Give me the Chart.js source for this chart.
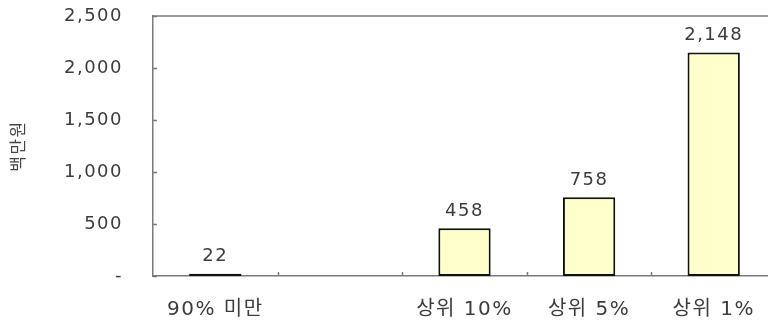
<!DOCTYPE html>
<html>
<head>
<meta charset="utf-8">
<script src="https://cdn.jsdelivr.net/npm/chart.js@4"></script>
<style>
  html, body { margin: 0; padding: 0; background: #fff; overflow: hidden; }
  #wrap { width: 776px; height: 325px; position: relative; }
</style>
</head>
<body>
<div id="wrap"><canvas id="canvas"></canvas></div>
<script>
'use strict';

const categories = ['90% 미만', '', '상위 10%', '상위 5%', '상위 1%'];
const values = [22, null, 458, 758, 2148];
const yTicks = [0, 500, 1000, 1500, 2000, 2500];

const FONT = '"DejaVu Sans", "Noto Sans CJK KR", sans-serif';
const TEXT = '#3c3c3c';
const LINE = '#7a7a7a';
const SPACING = '1.5px';

// wide letter spacing for every text drawn on the canvas
let spacing = {
  id: 'spacing',
  beforeLayout(chart) { chart.ctx.letterSpacing = SPACING; },
  beforeDraw(chart) { chart.ctx.letterSpacing = SPACING; }
};

// short inward tick marks, the top frame line and the value labels
let frame = {
  id: 'frame',
  afterDraw(chart) {
    let c = chart.ctx;
    let area = chart.chartArea;
    let x = chart.scales.x;
    let y = chart.scales.y;
    c.save();
    c.strokeStyle = LINE;
    c.lineWidth = 1.5;
    c.beginPath();
    c.moveTo(area.left, area.top);
    c.lineTo(area.right, area.top);
    for (let v of yTicks) {
      let py = Math.round(y.getPixelForValue(v)) + 0.5;
      c.moveTo(area.left, py);
      c.lineTo(area.left + 4, py);
    }
    for (let i = 1; i < categories.length; i++) {
      let px = Math.round((x.getPixelForValue(i - 1) + x.getPixelForValue(i)) / 2) + 0.5;
      c.moveTo(px, area.bottom);
      c.lineTo(px, area.bottom - 4);
    }
    c.stroke();

    c.fillStyle = TEXT;
    c.font = '18px ' + FONT;
    c.letterSpacing = SPACING;
    c.textAlign = 'center';
    c.textBaseline = 'bottom';
    let meta = chart.getDatasetMeta(0);
    meta.data.forEach((bar, i) => {
      if (values[i] == null) return;
      c.fillText(values[i].toLocaleString('en-US'), bar.x, bar.y - 8);
    });
    c.restore();
  }
};

let ctx = document.querySelector('#canvas').getContext('2d');
let chart = new Chart(ctx, {
  type: 'bar',
  data: {
    labels: categories,
    datasets: [{
      data: values,
      backgroundColor: '#ffffcc',
      borderColor: '#111111',
      borderWidth: 2,
      borderSkipped: false,
      categoryPercentage: 1,
      barPercentage: 0.42
    }]
  },
  options: {
    responsive: true,
    maintainAspectRatio: false,
    animation: false,
    layout: {padding: {top: 16, right: 0, bottom: 0, left: 0}},
    plugins: {legend: {display: false}, tooltip: {enabled: false}},
    scales: {
      x: {
        grid: {display: false},
        border: {display: true, color: LINE, width: 1.5},
        ticks: {color: TEXT, font: {family: FONT, size: 20}, padding: 14, maxRotation: 0, autoSkip: false},
        afterFit(scale) {
          scale.height = 49;
          scale.paddingLeft = 0;
          scale.paddingRight = 0;
        }
      },
      y: {
        min: 0,
        max: 2500,
        afterBuildTicks(scale) { scale.ticks = yTicks.map(v => ({value: v})); },
        grid: {display: false},
        border: {display: true, color: LINE, width: 1.5},
        ticks: {
          color: TEXT,
          font: {family: FONT, size: 18},
          padding: 22,
          callback: v => v === 0 ? '-' : v.toLocaleString('en-US')
        },
        title: {
          display: true,
          text: '백만원',
          color: '#444444',
          font: {family: FONT, size: 17},
          padding: {top: 9, bottom: 0}
        },
        afterFit(scale) {
          scale.width = 153;
          scale.paddingTop = 0;
          scale.paddingBottom = 0;
        }
      }
    }
  },
  plugins: [spacing, frame]
});
</script>
</body>
</html>
